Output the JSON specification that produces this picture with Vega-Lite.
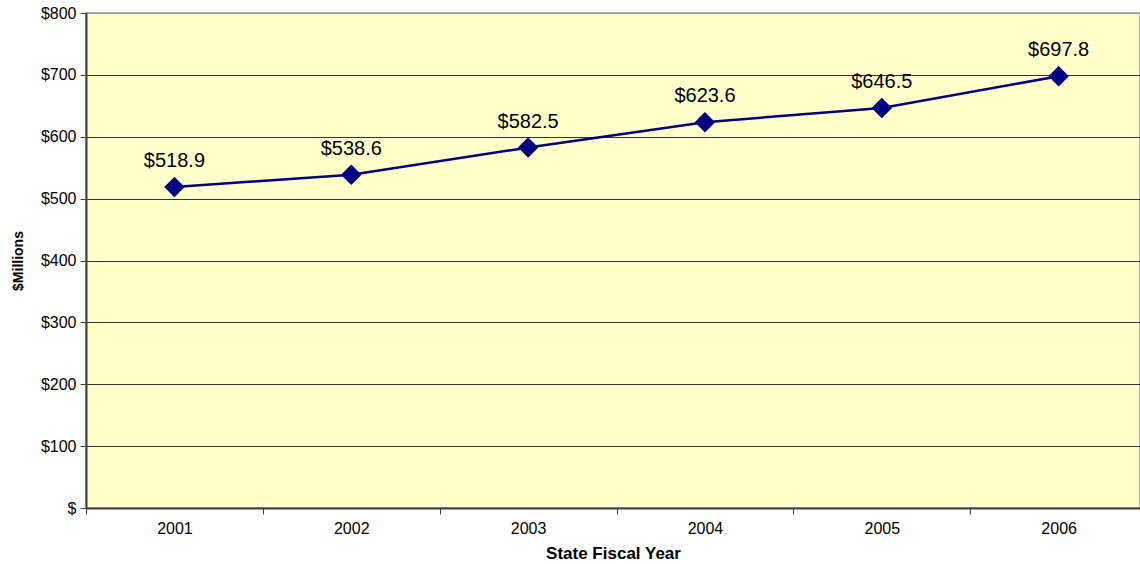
{
  "$schema": "https://vega.github.io/schema/vega-lite/v6.json",
  "autosize": "none",
  "width": 1054,
  "height": 495,
  "padding": {"left": 86, "top": 13, "right": 0, "bottom": 56},
  "background": "white",
  "config": {
    "font": "Liberation Sans",
    "view": {"fill": "#FFFFCC", "stroke": "#999999", "strokeWidth": 1.5}
  },
  "data": {
    "values": [
      {"year": 2001, "value": 518.9, "label": "$518.9"},
      {"year": 2002, "value": 538.6, "label": "$538.6"},
      {"year": 2003, "value": 582.5, "label": "$582.5"},
      {"year": 2004, "value": 623.6, "label": "$623.6"},
      {"year": 2005, "value": 646.5, "label": "$646.5"},
      {"year": 2006, "value": 697.8, "label": "$697.8"}
    ]
  },
  "resolve": {"axis": {"x": "independent"}},
  "layer": [
    {
      "mark": {"type": "line", "color": "#000080", "strokeWidth": 2.5},
      "encoding": {
        "x": {
          "field": "year",
          "type": "quantitative",
          "scale": {"domain": [2000.5, 2006.46], "nice": false, "zero": false},
          "axis": {
            "orient": "bottom",
            "title": "State Fiscal Year",
            "titleFont": "Liberation Sans",
            "titleFontSize": 17,
            "titleFontWeight": "bold",
            "titleColor": "#000000",
            "titlePadding": 9,
            "values": [2001, 2002, 2003, 2004, 2005, 2006],
            "format": "d",
            "labelFontSize": 16,
            "labelColor": "#000000",
            "labelPadding": 12,
            "labelFlush": false,
            "labelOverlap": false,
            "ticks": false,
            "tickSize": 0,
            "grid": false,
            "domainColor": "#404040",
            "domainWidth": 2
          }
        },
        "y": {
          "field": "value",
          "type": "quantitative",
          "scale": {"domain": [0, 800], "nice": false},
          "axis": {
            "title": "$Millions",
            "titleFont": "Liberation Sans",
            "titleFontSize": 14,
            "titleFontWeight": "bold",
            "titleColor": "#000000",
            "titlePadding": 15,
            "values": [0, 100, 200, 300, 400, 500, 600, 700, 800],
            "labelExpr": "datum.value === 0 ? '$' : '$' + datum.value",
            "labelFontSize": 16,
            "labelColor": "#000000",
            "labelPadding": 4,
            "labelFlush": false,
            "grid": true,
            "gridColor": {"condition": {"test": "datum.value === 800", "value": "#999999"}, "value": "#333333"},
            "gridWidth": 1,
            "domainColor": "#404040",
            "domainWidth": 2,
            "tickColor": "#404040",
            "tickSize": 6
          }
        }
      }
    },
    {
      "mark": {"type": "point", "shape": "diamond", "filled": true, "size": 420, "color": "#000080", "opacity": 1},
      "encoding": {
        "x": {
          "field": "year",
          "type": "quantitative",
          "axis": {
            "orient": "bottom",
            "title": null,
            "values": [2000.5, 2001.5, 2002.5, 2003.5, 2004.5, 2005.5],
            "labels": false,
            "grid": false,
            "domain": false,
            "ticks": true,
            "tickColor": "#404040",
            "tickSize": 6,
            "tickWidth": 1
          }
        },
        "y": {"field": "value", "type": "quantitative"}
      }
    },
    {
      "mark": {"type": "text", "dy": -26, "fontSize": 20, "font": "Liberation Sans", "color": "#000000"},
      "encoding": {
        "x": {"field": "year", "type": "quantitative", "axis": null},
        "y": {"field": "value", "type": "quantitative"},
        "text": {"field": "label"}
      }
    }
  ]
}
